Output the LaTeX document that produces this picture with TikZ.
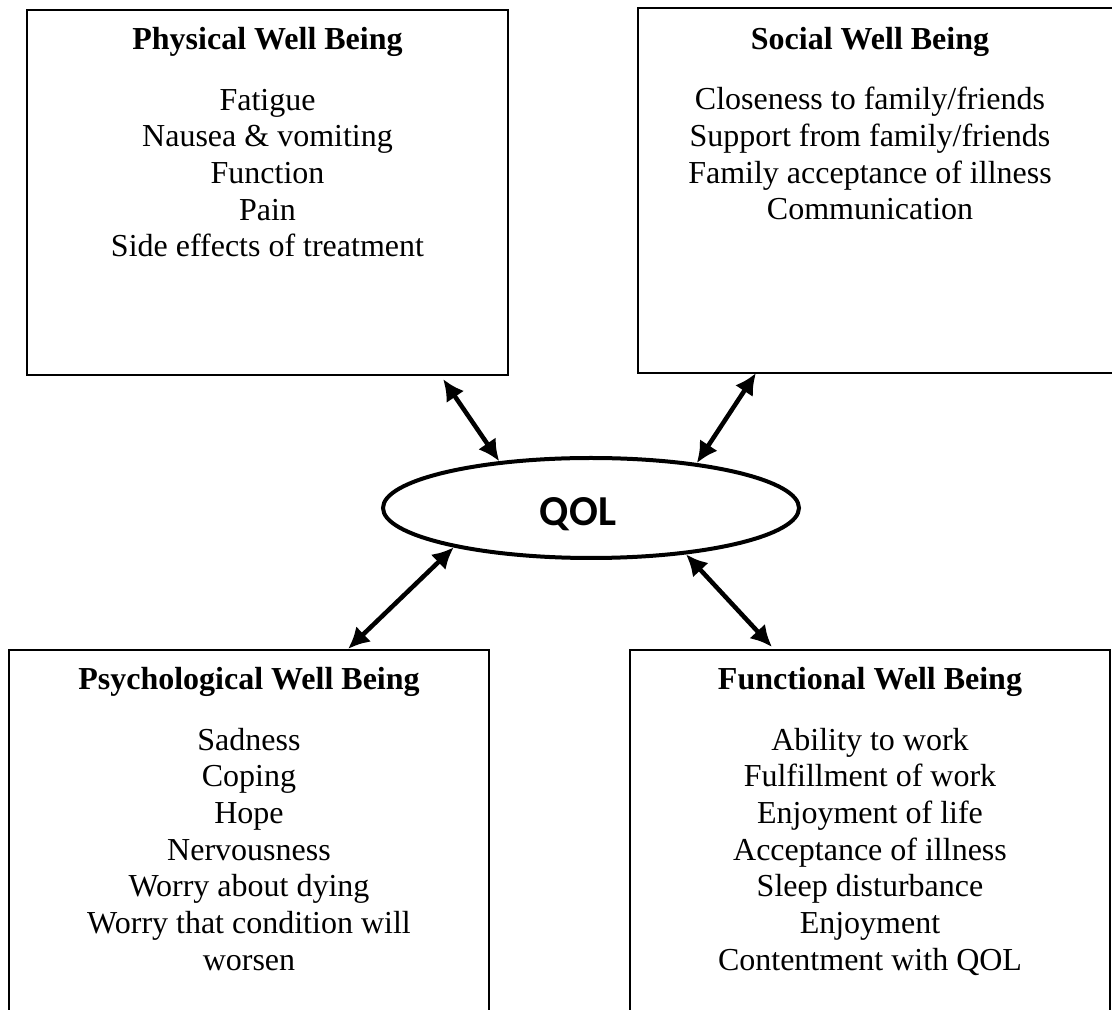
\documentclass[tikz,border=0pt]{standalone}
\usepackage{fontspec}
\setmainfont{Liberation Serif}
\newfontfamily\qolfont{Carlito}
\usetikzlibrary{shapes,arrows.meta,positioning}
\tikzset{
    block/.style = {draw, rectangle, line width=0.8pt, inner sep=0pt},
    head/.style = {anchor=base, font=\fontsize{12}{13.75}\selectfont\bfseries},
    items/.style = {anchor=base, align=center, font=\fontsize{12}{13.75}\selectfont},
    hub/.style = {draw, ellipse, line width=1.5pt, inner sep=0pt,
        minimum width=156pt, minimum height=37.5pt, text height=15pt,
        font=\qolfont\bfseries\fontsize{16}{19}\selectfont},
    arrow/.style = {line width=1.7pt, {Latex[length=8pt,width=8pt]}-{Latex[length=8pt,width=8pt]}}
}

\begin{document}
\begin{tikzpicture}[x=0.375pt, y=-0.375pt]
    \useasboundingbox (0,0) rectangle (1112,1010);
    \clip (0,0) rectangle (1112,1010);
    \node[block, minimum width=180.4pt, minimum height=136.9pt] (phys) at (267.5,192.5) {};
    \node[block, minimum width=180.75pt, minimum height=136.9pt] (soc) at (879,190.5) {};
    \node[block, minimum width=180pt, minimum height=142.5pt] (psy) at (249,840) {};
    \node[block, minimum width=180pt, minimum height=142.5pt] (func) at (870,840) {};
    \node[hub] (qol) at (591,508) {QOL\hspace*{9.75pt}};

    \node[head] (physhead) at (267.5,50) {Physical Well Being};
    \node[items] (physlist) at (267.5,256.7) {Fatigue\\ Nausea \& vomiting\\ Function\\ Pain\\ Side effects of treatment};
    \node[head] (sochead) at (870,50) {Social Well Being};
    \node[items] (soclist) at (870,220) {Closeness to family/friends\\ Support from family/friends\\ Family acceptance of illness\\ Communication};
    \node[head] (psyhead) at (249,690) {Psychological Well Being};
    \node[items] (psylist) at (249,970) {Sadness\\ Coping\\ Hope\\ Nervousness\\ Worry about dying\\ Worry that condition will\\ worsen};
    \node[head] (funchead) at (870,690) {Functional Well Being};
    \node[items] (funclist) at (870,970) {Ability to work\\ Fulfillment of work\\ Enjoyment of life\\ Acceptance of illness\\ Sleep disturbance\\ Enjoyment\\ Contentment with QOL};

    \draw[arrow] ([shift={(-66,3)}]phys.south east) -- (qol.153.4);
    \draw[arrow] ([shift={(119,-1)}]soc.south west) -- (qol.23.4);
    \draw[arrow] ([shift={(-142,0)}]psy.north east) -- (qol.196.9);
    \draw[arrow] ([shift={(143,-2)}]func.north west) -- (qol.334.4);
\end{tikzpicture}
\end{document}
